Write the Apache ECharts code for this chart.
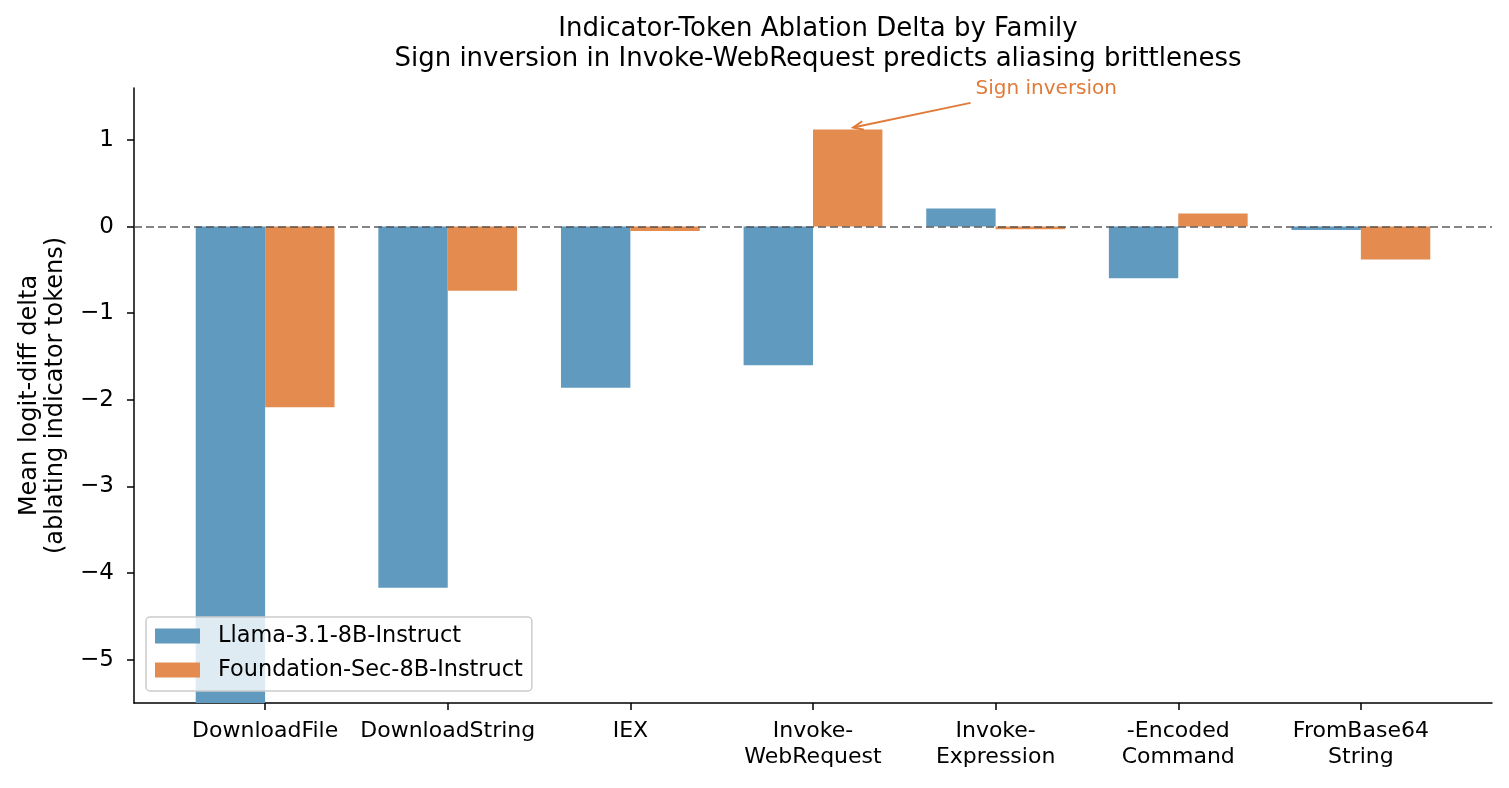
<!DOCTYPE html>
<html>
<head>
<meta charset="utf-8">
<script src="https://cdn.jsdelivr.net/npm/echarts@6/dist/echarts.min.js"></script>
<style>
  html, body { margin: 0; padding: 0; background: #fff; }
  #chart { width: 1509px; height: 788px; }
</style>
</head>
<body>
<div id="chart"></div>
<script>
// data
const families = ["DownloadFile", "DownloadString", "IEX", "Invoke-\nWebRequest", "Invoke-\nExpression", "-Encoded\nCommand", "FromBase64\nString"];
const seriesNames = ["Llama-3.1-8B-Instruct", "Foundation-Sec-8B-Instruct"];
const llamaDelta = [-5.62, -4.17, -1.86, -1.60, 0.21, -0.595, -0.04];
const foundationDelta = [-2.085, -0.74, -0.05, 1.12, -0.03, 0.15, -0.38];
const yTicks = [-5, -4, -3, -2, -1, 0, 1];
const xTicks = [0, 1, 2, 3, 4, 5, 6];

const blue = "#619abf";
const orange = "#e48b50";
const noteColor = "#e07b39";
const annotIndex = 3; // Invoke-WebRequest
const annotText = "Sign inversion";
const annotTextAt = [3.89, 1.59];

const chart = echarts.init(document.getElementById("chart"));

const minus = (v) => (v < 0 ? "\u2212" + Math.abs(v) : String(v));

// arrow + label drawn in data space of the frame grid
function renderNote(params, api) {
  const tip = api.coord([annotIndex + 0.22, foundationDelta[annotIndex]]);
  tip[1] -= 2;
  const txt = api.coord(annotTextAt);
  const start = [txt[0] - 5, txt[1] + 14];
  const dx = start[0] - tip[0], dy = start[1] - tip[1];
  const len = Math.sqrt(dx * dx + dy * dy);
  const ux = dx / len, uy = dy / len;
  const head = 11, ang = 0.4;
  const rot = (a) => [
    tip[0] + head * (ux * Math.cos(a) - uy * Math.sin(a)),
    tip[1] + head * (ux * Math.sin(a) + uy * Math.cos(a)),
  ];
  const lineStyle = { stroke: noteColor, lineWidth: 2, fill: null };
  return {
    type: "group",
    children: [
      { type: "polyline", shape: { points: [start, tip] }, style: lineStyle },
      { type: "polyline", shape: { points: [rot(ang), tip, rot(-ang)] }, style: lineStyle },
      {
        type: "text",
        style: {
          text: annotText, x: txt[0], y: txt[1], fill: noteColor,
          font: "20px 'DejaVu Sans'", align: "left", verticalAlign: "middle",
        },
      },
    ],
  };
}

const option = {
  animation: false,
  textStyle: { fontFamily: "DejaVu Sans" },
  title: {
    text: "Indicator-Token Ablation Delta by Family\nSign inversion in Invoke-WebRequest predicts aliasing brittleness",
    left: 813,
    textAlign: "center",
    top: 9,
    textStyle: { fontSize: 26, fontWeight: "normal", color: "#000", lineHeight: 30 },
  },
  legend: {
    data: seriesNames,
    orient: "vertical",
    left: 146,
    top: 617,
    icon: "rect",
    itemWidth: 45,
    itemHeight: 15,
    itemGap: 12,
    padding: [8, 9, 10, 9],
    backgroundColor: "rgba(255,255,255,0.8)",
    borderColor: "#cccccc",
    borderWidth: 1.5,
    borderRadius: 4,
    textStyle: { fontSize: 22.4, color: "#000", padding: [0, 0, 0, 13] },
  },
  grid: [
    { left: 134, right: 17, top: 88, bottom: 85, outerBoundsMode: "none" },
    { left: 173.8, right: 56.8, top: 88, bottom: 85, outerBoundsMode: "none" },
  ],
  xAxis: [
    {
      type: "value", gridIndex: 0, min: -0.718, max: 6.718,
      axisLine: { show: true, onZero: false, lineStyle: { color: "#000", width: 1.5 } },
      axisTick: { show: true, customValues: xTicks, length: 7, lineStyle: { color: "#000", width: 1.5 } },
      axisLabel: {
        customValues: xTicks, formatter: (v) => families[Math.round(v)],
        fontSize: 22, lineHeight: 26, color: "#000", margin: 15,
      },
      splitLine: { show: false },
    },
    { type: "category", gridIndex: 1, data: families, show: false },
  ],
  yAxis: [
    {
      type: "value", gridIndex: 0, min: -5.5, max: 1.6,
      axisLine: { show: true, onZero: false, lineStyle: { color: "#000", width: 1.5 } },
      axisTick: { show: true, customValues: yTicks, length: 7, lineStyle: { color: "#000", width: 1.5 } },
      axisLabel: { customValues: yTicks, formatter: minus, fontSize: 23, color: "#000", margin: 20 },
      splitLine: { show: false },
      name: "Mean logit-diff delta\n(ablating indicator tokens)",
      nameLocation: "middle",
      nameGap: 65,
      nameRotate: 90,
      nameTextStyle: { fontSize: 24, lineHeight: 26, color: "#000" },
    },
    { type: "value", gridIndex: 1, min: -5.5, max: 1.6, show: false },
  ],
  series: [
    {
      name: seriesNames[0], type: "bar", xAxisIndex: 1, yAxisIndex: 1,
      data: llamaDelta, barWidth: 69.4, barGap: "0%",
      itemStyle: { color: blue },
    },
    {
      name: seriesNames[1], type: "bar", xAxisIndex: 1, yAxisIndex: 1,
      data: foundationDelta, barWidth: 69.4, barGap: "0%",
      itemStyle: { color: orange },
    },
    {
      type: "custom", xAxisIndex: 0, yAxisIndex: 0, z: 5, silent: true,
      clip: false, data: [[0, 0]], renderItem: renderNote,
      markLine: {
        silent: true, symbol: "none", label: { show: false },
        lineStyle: { color: "#4a4a4a", type: [8, 4], width: 1.5, opacity: 0.9 },
        data: [{ yAxis: 0 }],
      },
    },
  ],
};

chart.setOption(option);
</script>
</body>
</html>
